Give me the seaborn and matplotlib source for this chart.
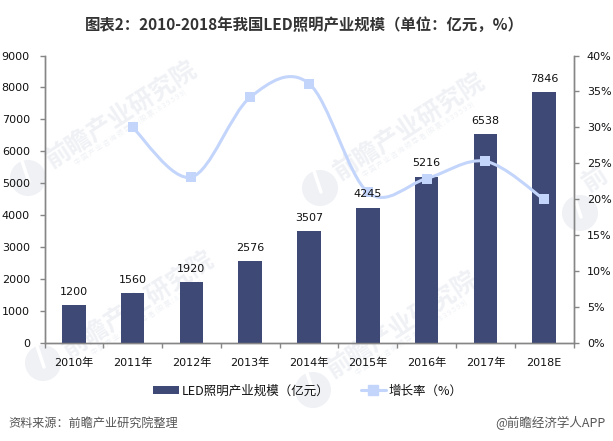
import numpy as np
import pandas as pd
import matplotlib
matplotlib.use('Agg')
import matplotlib.pyplot as plt
from matplotlib.path import Path
from matplotlib.patches import PathPatch, Circle, Rectangle
from matplotlib.lines import Line2D
import seaborn as sns

# Chart data
years = ['2010年', '2011年', '2012年', '2013年', '2014年', '2015年', '2016年', '2017年', '2018E']
market_size = [1200, 1560, 1920, 2576, 3507, 4245, 5216, 6538, 7846]
growth_years = [1, 2, 3, 4, 5, 6, 7, 8]
growth_rate = [30.0, 23.1, 34.2, 36.1, 21.0, 22.9, 25.3, 20.0]
left_ticks = [0, 1000, 2000, 3000, 4000, 5000, 6000, 7000, 8000, 9000]
right_ticks = [0, 5, 10, 15, 20, 25, 30, 35, 40]

BAR_COLOR = '#3E4A75'
LINE_COLOR = '#C3D5FB'
AXIS_COLOR = '#868686'
TEXT_COLOR = '#111111'
MARK_COLOR = '#EFF1F5'

sns.set_theme(style='ticks')
plt.rcParams['font.family'] = ['DejaVu Sans', 'Noto Sans CJK SC']
plt.rcParams['axes.unicode_minus'] = False
CJK = ['Noto Sans CJK SC', 'DejaVu Sans']

fig = plt.figure(figsize=(6.13, 4.41), dpi=100, facecolor='white')

# background layer in pixel coordinates for the watermarks
bg = fig.add_axes([0, 0, 1, 1], zorder=-1)
bg.set_xlim(0, 613)
bg.set_ylim(441, 0)
bg.axis('off')
for lx, ly, tx, ty in [(28, 178, 122, 115), (320, 188, 410, 127), (43, 363, 139, 305), (313, 390, 403, 325)]:
    bg.add_patch(Circle((lx, ly), 18, color=MARK_COLOR, lw=0))
    bg.plot([lx - 6, lx + 1], [ly - 17, ly + 4], color='white', lw=2.5)
    bg.text(tx, ty, '前瞻产业研究院', fontsize=18, fontweight='bold', color=MARK_COLOR, rotation=33,
            ha='center', va='center', family=CJK)
    bg.text(tx + 8, ty + 12, '中 国 产 业 咨 询 领 导 者 (股 票 : 8 3 9 5 9 9)', fontsize=5, color=MARK_COLOR,
            rotation=33, ha='center', va='center', family=CJK)
bg.add_patch(Circle((580, 213), 18, color=MARK_COLOR, lw=0))
bg.plot([574, 581], [196, 217], color='white', lw=2.5)
bg.text(595, 180, '前', fontsize=18, fontweight='bold', color=MARK_COLOR, rotation=33, ha='center', va='center', family=CJK)

ax = fig.add_axes([44.5 / 613, 1 - 343.3 / 441, (573.5 - 44.5) / 613, (343.3 - 55.5) / 441])
ax.patch.set_alpha(0)

df = pd.DataFrame({'year': years, 'size': market_size})
sns.barplot(data=df, x='year', y='size', color=BAR_COLOR, saturation=1, width=0.4, linewidth=0, ax=ax, zorder=3)
ax.set_xlim(-0.5, 8.5)
ax.set_ylim(0, 9000)
ax.set_xlabel('')
ax.set_ylabel('')
ax.set_yticks(left_ticks)
ax.set_xticks(range(len(years)))
ax.set_xticklabels(years)
ax.tick_params(axis='x', which='major', length=0, pad=10.5, labelsize=8, labelcolor=TEXT_COLOR)
ax.tick_params(axis='y', length=3.6, width=1, color=AXIS_COLOR, pad=7, labelsize=8, labelcolor=TEXT_COLOR, left=True)

# ticks between the categories, minor ticks did not show up so draw them
tick_drop = 5 / 287.8
for b in np.arange(len(years) + 1) - 0.5:
    ax.plot([b, b], [0, -tick_drop], transform=ax.get_xaxis_transform(), color=AXIS_COLOR, lw=1, clip_on=False,
            solid_capstyle='butt')
ax.set_xlim(-0.5, 8.5)
ax.set_ylim(0, 9000)

ax2 = ax.twinx()
ax2.patch.set_alpha(0)
ax2.set_ylim(0, 40)
ax2.set_yticks(right_ticks)
ax2.set_yticklabels([f'{t}%' for t in right_ticks])
ax2.tick_params(axis='y', length=3.6, width=1, color=AXIS_COLOR, pad=6, labelsize=8, labelcolor=TEXT_COLOR, right=True)
ax2.grid(False)
ax.grid(False)

for a in (ax, ax2):
    a.spines['top'].set_visible(False)
    for s in ('left', 'right', 'bottom'):
        a.spines[s].set_color(AXIS_COLOR)
        a.spines[s].set_linewidth(1)


def smooth_path(xs, ys):
    # same kind of spline Excel uses for a smoothed line
    xs = np.array(xs, dtype=float)
    ys = np.array(ys, dtype=float)
    verts = [(xs[0], ys[0])]
    codes = [Path.MOVETO]
    n = len(xs)
    for i in range(n - 1):
        p0 = i - 1 if i > 0 else i
        p3 = i + 2 if i + 2 < n else i + 1
        verts.append((xs[i] + (xs[i + 1] - xs[p0]) / 6, ys[i] + (ys[i + 1] - ys[p0]) / 6))
        verts.append((xs[i + 1] - (xs[p3] - xs[i]) / 6, ys[i + 1] - (ys[p3] - ys[i]) / 6))
        verts.append((xs[i + 1], ys[i + 1]))
        codes += [Path.CURVE4, Path.CURVE4, Path.CURVE4]
    return Path(verts, codes)


ax2.add_patch(PathPatch(smooth_path(growth_years, growth_rate), fill=False, edgecolor=LINE_COLOR, lw=2.2, zorder=4))
sns.scatterplot(x=growth_years, y=growth_rate, marker='s', s=55, color=LINE_COLOR, linewidth=0, ax=ax2, zorder=5, legend=False)

# value labels sit on top of the line
for i, v in enumerate(market_size):
    ax2.annotate(str(v), (i, v), xycoords=ax.transData, xytext=(0, 9.5), textcoords='offset points', ha='center',
                 va='center', fontsize=8, color=TEXT_COLOR, zorder=6)

# title and footer
fig.text(304 / 613, 1 - 25 / 441, '图表2：2010-2018年我国LED照明产业规模（单位：亿元，%）', ha='center', va='center',
         fontsize=11.1, fontweight='bold', color='#333333', family=CJK)
fig.text(8 / 613, 1 - 423 / 441, '资料来源：前瞻产业研究院整理', ha='left', va='center', fontsize=8.7, color='#555555', family=CJK)
fig.text(606 / 613, 1 - 423 / 441, '@前瞻经济学人APP', ha='right', va='center', fontsize=9, color='#555555', family=CJK)

# legend
handles = [Rectangle((0, 0), 1, 1, color=BAR_COLOR, lw=0),
           Line2D([0], [0], color=LINE_COLOR, lw=2.2, marker='s', markersize=7)]
fig.legend(handles, ['LED照明产业规模（亿元）', '增长率（%）'], loc='center', bbox_to_anchor=(308 / 613, 1 - 391 / 441),
           ncol=2, frameon=False, prop={'family': CJK, 'size': 9}, handlelength=2.05, handleheight=0.55,
           columnspacing=2.5, handletextpad=0.2, labelcolor=TEXT_COLOR)

fig.savefig('out.png', dpi=100, facecolor='white')
